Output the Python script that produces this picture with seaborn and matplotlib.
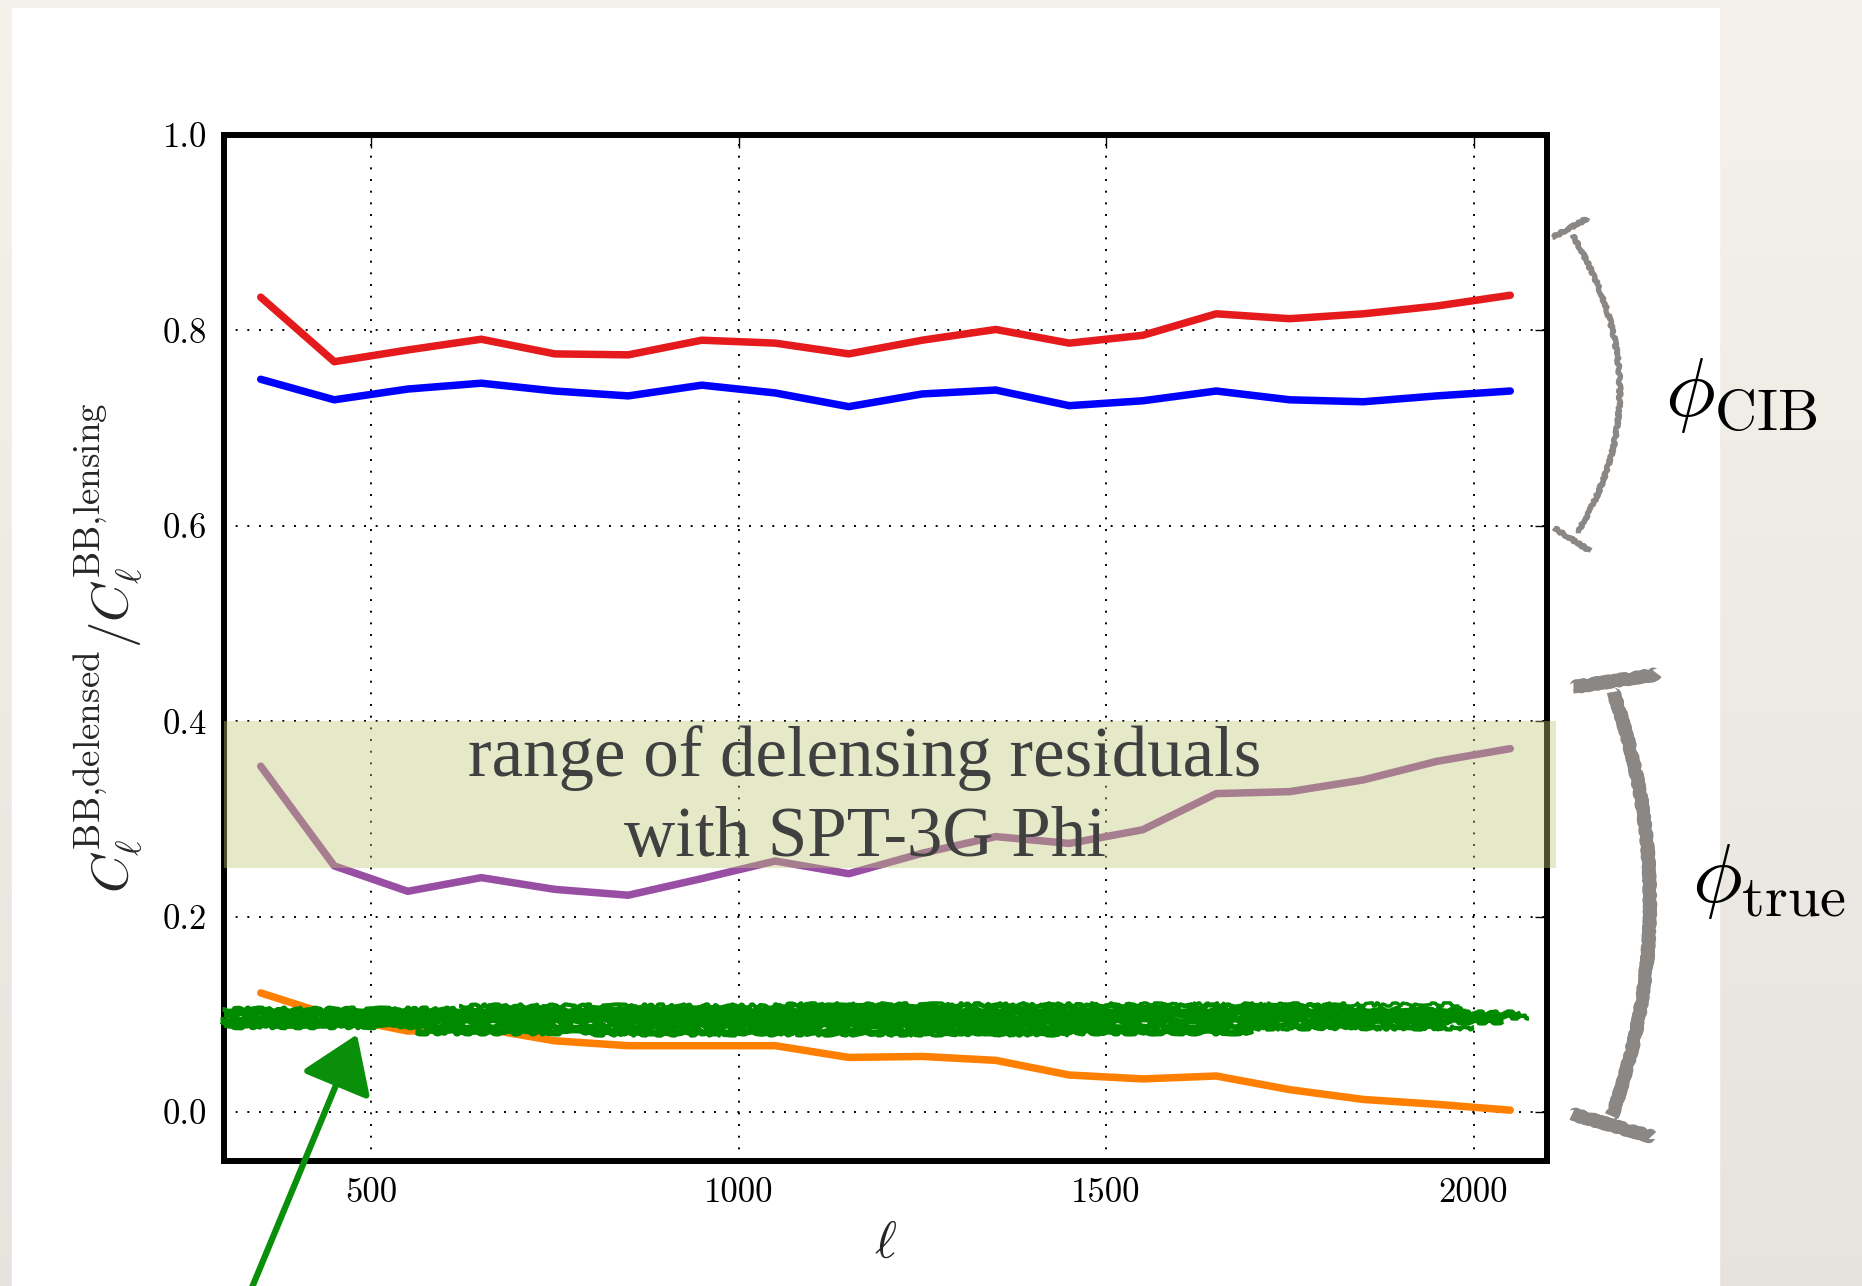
import numpy as np
import pandas as pd
import matplotlib
matplotlib.use("Agg")
import matplotlib.pyplot as plt
import matplotlib.transforms as mtransforms
from matplotlib.patches import Rectangle
import seaborn as sns

# ---- data: residual lensing B-mode power after delensing ----
ell = [350, 450, 550, 650, 750, 850, 950, 1050, 1150, 1250,
       1350, 1450, 1550, 1650, 1750, 1850, 1950, 2050]

cib_a = [0.834, 0.768, 0.780, 0.791, 0.776, 0.775, 0.790, 0.787, 0.776, 0.790,
         0.801, 0.787, 0.795, 0.817, 0.812, 0.817, 0.825, 0.836]
cib_b = [0.750, 0.729, 0.740, 0.746, 0.738, 0.733, 0.744, 0.736, 0.722, 0.735,
         0.739, 0.723, 0.728, 0.738, 0.729, 0.727, 0.733, 0.738]
true_a = [0.354, 0.252, 0.226, 0.240, 0.228, 0.222, 0.239, 0.257, 0.244, 0.265,
          0.282, 0.275, 0.289, 0.326, 0.328, 0.340, 0.359, 0.372]
true_b = [0.122, 0.098, 0.083, 0.086, 0.073, 0.068, 0.068, 0.068, 0.056, 0.057,
          0.053, 0.038, 0.034, 0.037, 0.023, 0.013, 0.008, 0.002]

series_names = ["cib_a", "cib_b", "true_a", "true_b"]
series_colors = ["#e41a1c", "#0000ff", "#984ea3", "#ff7f00"]

xticks = [500, 1000, 1500, 2000]
yticks = [0.0, 0.2, 0.4, 0.6, 0.8, 1.0]

# shaded band of delensing residuals
band_lo, band_hi = 0.25, 0.40
band_text = "range of delensing residuals\nwith SPT-3G Phi"

# hand-drawn green marker band: (ell start, ell end, level, width)
scribble = [
    (297, 1990, 0.106, 3.5),
    (300, 2065, 0.100, 4.5),
    (295, 2040, 0.094, 5),
    (310, 1960, 0.088, 4),
    (340, 2075, 0.097, 3),
    (560, 1700, 0.083, 5),
    (620, 1830, 0.109, 3),
    (300, 560, 0.091, 6),
    (300, 540, 0.101, 5),
    (900, 1500, 0.092, 6),
    (800, 1450, 0.080, 3),
    (1300, 2000, 0.086, 3),
    (1050, 1980, 0.111, 2.5),
    (450, 1250, 0.097, 5),
    (700, 1350, 0.104, 4),
]

df = pd.DataFrame({
    "ell": ell * 4,
    "ratio": cib_a + cib_b + true_a + true_b,
    "series": sum([[n] * len(ell) for n in series_names], []),
})

# ---- style ----
sns.set_style("white")
plt.rcParams.update({
    "font.family": "serif",
    "font.serif": ["cmr10", "DejaVu Serif"],
    "mathtext.fontset": "cm",
    "axes.formatter.use_mathtext": True,
    "axes.unicode_minus": False,
})

fig = plt.figure(figsize=(18.62, 12.86), dpi=100)

# paper-like backdrop with a white sheet on it
bg = fig.add_axes([0, 0, 1, 1], zorder=-10)
grad = np.linspace(0, 1, 256)[:, None]
c_top = np.array([0.960, 0.948, 0.922])
c_bot = np.array([0.905, 0.893, 0.872])
img = c_top[None, None, :] * (1 - grad[..., None]) + c_bot[None, None, :] * grad[..., None]
bg.imshow(np.repeat(img, 2, axis=1), aspect="auto", extent=[0, 1, 0, 1])
bg.add_patch(Rectangle((12 / 1862, 0), (1719 - 12) / 1862, 1 - 8 / 1286,
                       transform=bg.transAxes, color="white", zorder=2))
bg.set_axis_off()

ax = fig.add_axes([224 / 1862, 1 - 1161 / 1286, 1323 / 1862, 1026 / 1286])
ax.set_facecolor("white")

sns.lineplot(data=df, x="ell", y="ratio", hue="series", hue_order=series_names,
             palette=series_colors, linewidth=5.4, legend=False, ax=ax, zorder=3)

ax.set_xlim(300, 2100)
ax.set_ylim(-0.05, 1.0)
ax.set_xticks(xticks)
ax.set_yticks(yticks)
ax.set_xticklabels([str(t) for t in xticks])
ax.set_yticklabels([f"{t:.1f}" for t in yticks])
ax.tick_params(direction="in", length=9, width=1, top=True, right=True,
               labelsize=25, pad=12, colors="black")
ax.grid(True, linestyle=(0, (1, 5)), color="black", linewidth=1.4)
for sp in ax.spines.values():
    sp.set_linewidth(4.3)
    sp.set_color("black")
    sp.set_visible(True)

ax.set_xlabel(r"$\ell$", fontsize=38, labelpad=8)
ax.set_ylabel(r"$C_\ell^{\rm BB{,}delensed}/C_\ell^{\rm BB{,}lensing}$", fontsize=38, labelpad=12)

# translucent residual band with its caption
ax.add_patch(Rectangle((0, band_lo), 1.0068, band_hi - band_lo,
                       transform=mtransforms.blended_transform_factory(ax.transAxes, ax.transData),
                       facecolor="#c0c875", alpha=0.4, edgecolor="none",
                       clip_on=False, zorder=4))
ax.text(1172, 0.321, band_text, ha="center", va="center", fontsize=51,
        family=["Liberation Serif"], color="#404040", linespacing=1.3, zorder=5)

# green highlight scribble and arrow
for x0, x1, lev, w in scribble:
    ln, = ax.plot([x0, x1], [lev, lev], color="#008a00", linewidth=w,
                  solid_capstyle="butt", clip_on=False, zorder=6)
    ln.set_sketch_params(scale=1.6, length=60, randomness=30)

ax.annotate("", xy=(481, 0.0795), xytext=(335, -0.185),
            xycoords="data", textcoords="data", annotation_clip=False,
            arrowprops=dict(arrowstyle="-|>,head_length=1.7,head_width=1.15",
                            mutation_scale=20, color="#0a8f0a", lw=4.5,
                            shrinkA=0, shrinkB=0),
            zorder=6)

# gray brackets grouping the curves
side = mtransforms.blended_transform_factory(ax.transAxes, ax.transData)


def bracket(cap_top, p0, ctrl, p2, cap_bot, lw):
    t = np.linspace(0, 1, 60)
    bx = (1 - t) ** 2 * p0[0] + 2 * (1 - t) * t * ctrl[0] + t ** 2 * p2[0]
    by = (1 - t) ** 2 * p0[1] + 2 * (1 - t) * t * ctrl[1] + t ** 2 * p2[1]
    segs = [(bx, by),
            ([cap_top[0][0], cap_top[1][0]], [cap_top[0][1], cap_top[1][1]]),
            ([cap_bot[0][0], cap_bot[1][0]], [cap_bot[0][1], cap_bot[1][1]])]
    for xs, ys in segs:
        ln, = ax.plot(xs, ys, transform=side, color="#8b8784", linewidth=lw,
                      solid_capstyle="butt", clip_on=False, zorder=6)
        ln.set_sketch_params(scale=1.2, length=6, randomness=8)


bracket(((1.004, 0.895), (1.031, 0.915)), (1.019, 0.898), (1.089, 0.740),
        (1.023, 0.593), ((1.005, 0.598), (1.033, 0.574)), 3.8)
bracket(((1.020, 0.435), (1.083, 0.448)), (1.050, 0.430), (1.106, 0.213),
        (1.049, -0.004), ((1.019, -0.002), (1.079, -0.025)), 9)

ax.text(1.147, 0.712, r"$\phi_{\rm CIB}$", transform=side, fontsize=60,
        ha="center", va="baseline", color="black")
ax.text(1.168, 0.215, r"$\phi_{\rm true}$", transform=side, fontsize=60,
        ha="center", va="baseline", color="black")

fig.savefig("out.png", dpi=100)
